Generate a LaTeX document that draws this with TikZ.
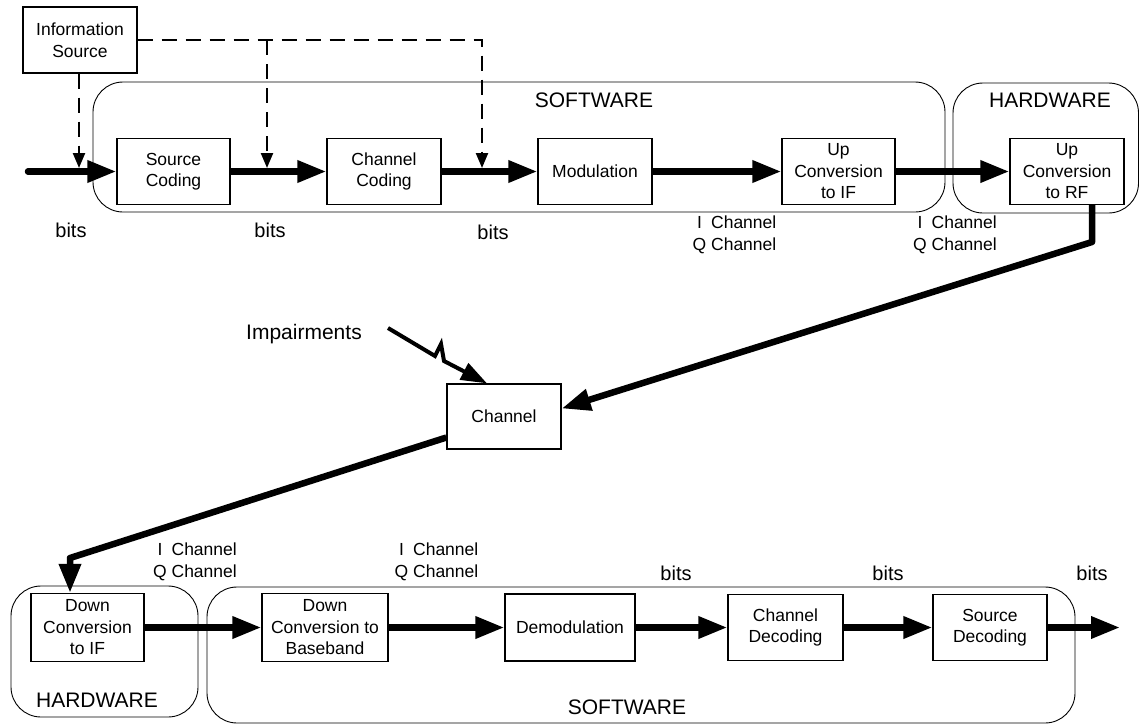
\documentclass[tikz,border=0pt]{standalone}
\usepackage{fontspec}
\setmainfont{Liberation Sans}
\usetikzlibrary{arrows.meta,calc}
\begin{document}
\begin{tikzpicture}[x=1pt,y=-1pt,
  box/.style={draw, line width=1.3pt, inner sep=0pt, align=center, font=\fontsize{17.5}{21.5}\selectfont},
  grp/.style={draw, line width=0.9pt, rounded corners=30pt},
  flow/.style={line width=6.5pt, line join=round, -{Triangle[length=29pt,width=21pt]}},
  ctl/.style={line width=2.3pt, dash pattern=on 15pt off 9pt, -{Triangle[length=15pt,width=12pt]}},
  zap/.style={line width=4pt, line join=miter, -{Triangle[length=26pt,width=18pt]}},
  lbl/.style={font=\fontsize{20}{24}\selectfont, inner sep=0pt},
  big/.style={font=\fontsize{21}{25}\selectfont, inner sep=0pt},
  iq/.style={font=\fontsize{17.5}{21.5}\selectfont, inner sep=0pt}]
\useasboundingbox (0,0) rectangle (1140,726);

% groups
\draw[grp] (93,82) rectangle (945,212);
\draw[grp] (953,83) rectangle (1138.5,213);
\draw[grp] (11,586) rectangle (198,717);
\draw[grp] (207,587) rectangle (1075,723);

% boxes
\node[box, minimum width=114pt, minimum height=66pt] (info) at (80,40) {Information\\Source};
\node[box, minimum width=113pt, minimum height=66pt] (srccod) at (173.5,171.5) {Source\\Coding};
\node[box, minimum width=114pt, minimum height=66pt] (chcod) at (384,171.5) {Channel\\Coding};
\node[box, minimum width=114pt, minimum height=66pt] (mod) at (595,171.5) {Modulation};
\node[box, minimum width=113pt, minimum height=66pt] (upif) at (838.5,171.5) {Up\\Conversion\\to IF};
\node[box, minimum width=114pt, minimum height=66pt] (uprf) at (1067,171.5) {Up\\Conversion\\to RF};
\node[box, minimum width=114pt, minimum height=65pt] (channel) at (504,416.5) {Channel};
\node[box, minimum width=113pt, minimum height=68pt] (dnif) at (87.5,627.5) {Down\\Conversion\\to IF};
\node[box, minimum width=126pt, minimum height=68pt] (dnbb) at (325,627.5) {Down\\Conversion to\\Baseband};
\node[box, minimum width=130pt, minimum height=67pt] (demod) at (570,627.5) {Demodulation};
\node[box, minimum width=115pt, minimum height=66pt] (chdec) at (785.5,627.5) {Channel\\Decoding};
\node[box, minimum width=114pt, minimum height=66pt] (srcdec) at (990,627.5) {Source\\Decoding};

% labels
\node[big] (sw1) at (594,100) {SOFTWARE};
\node[big] (hw1) at (1050,100) {HARDWARE};
\node[big] (hw2) at (97,700) {HARDWARE};
\node[big] (sw2) at (627,707) {SOFTWARE};
\node[big] (imp) at (304,334) {Impairments};
\node[lbl] (b1) at (71,230) {bits};
\node[lbl] (b2) at (270,230) {bits};
\node[lbl] (b3) at (493,232) {bits};
\node[lbl] (b4) at (676,573) {bits};
\node[lbl] (b5) at (888,573) {bits};
\node[lbl] (b6) at (1092,573) {bits};
\node[iq] (iq1) at (734.5,235) {\begin{tabular}{@{}c@{ }l@{}}I & Channel\\ Q & Channel\end{tabular}};
\node[iq] (iq2) at (955,235) {\begin{tabular}{@{}c@{ }l@{}}I & Channel\\ Q & Channel\end{tabular}};
\node[iq] (iq3) at (195,562) {\begin{tabular}{@{}c@{ }l@{}}I & Channel\\ Q & Channel\end{tabular}};
\node[iq] (iq4) at (436.5,562) {\begin{tabular}{@{}c@{ }l@{}}I & Channel\\ Q & Channel\end{tabular}};

% coordinates
\coordinate (in) at (28,171.5);
\coordinate (rfc) at (1092,242);
\coordinate (dnc) at (70,558);
\coordinate (out) at (1120,627.5);
\coordinate (j0) at (79,168);
\coordinate (j1) at (267,168);
\coordinate (j2) at (482,168);
\coordinate (d1) at (267,40);
\coordinate (d2) at (482,40);
\coordinate (ia) at (388,328);
\coordinate (ip) at (435,356);
\coordinate (ir) at (441,344);
\coordinate (iq) at (444,361);

% main flow
\draw[flow, line cap=round] (in) -- (srccod.west);
\draw[flow] (srccod.east) -- (chcod.west);
\draw[flow] (chcod.east) -- (mod.west);
\draw[flow] (mod.east) -- (upif.west);
\draw[flow] (upif.east) -- (uprf.west);
\draw[flow] (uprf.south -| rfc) -- (rfc) -- ($(channel.east)+(0,-8)$);
\draw[flow] ($(channel.west)+(0,21)$) -- (dnc) -- (dnif.north -| dnc);
\draw[flow] (dnif.east) -- (dnbb.west);
\draw[flow] (dnbb.east) -- (demod.west);
\draw[flow] (demod.east) -- (chdec.west);
\draw[flow] (chdec.east) -- (srcdec.west);
\draw[flow] (srcdec.east) -- (out);

% control (dashed)
\draw[ctl] (info.south -| j0) -- (j0);
\draw[ctl] (info.east) -- (d2) -- (j2);
\draw[ctl] (d1) -- (j1);

% impairments
\draw[zap] (ia) -- (ip) -- (ir) -- (iq) -- ($(channel.north)+(-17,0)$);
\end{tikzpicture}
\end{document}
